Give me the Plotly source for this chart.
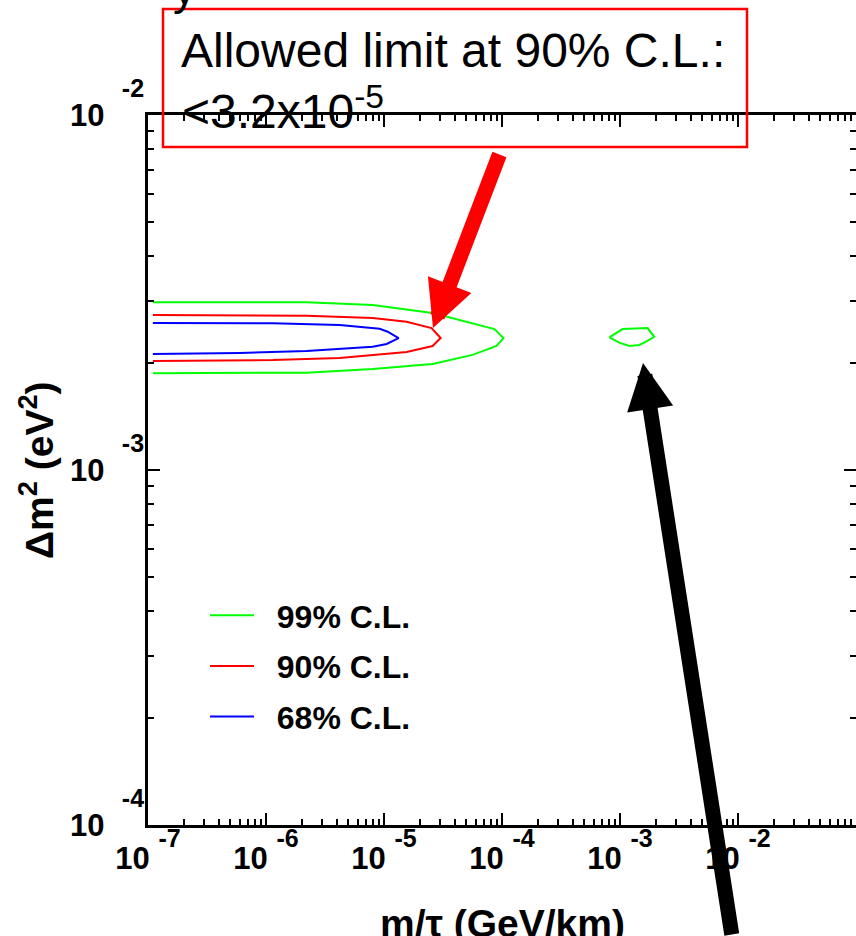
import plotly.graph_objects as go

# ---------------- data ----------------
# m/tau in GeV/km, delta m^2 in eV^2
c99_x = [1.10e-7, 2.21e-6, 8.02e-6, 2.58e-5, 8.64e-5, 1.03e-4, 8.98e-5, 5.63e-5, 2.58e-5, 8.02e-6, 2.21e-6, 1.10e-7]
c99_y = [2.97e-3, 2.97e-3, 2.915e-3, 2.77e-3, 2.495e-3, 2.353e-3, 2.235e-3, 2.11e-3, 1.99e-3, 1.925e-3, 1.88e-3, 1.873e-3]
c99_island_x = [8.12e-4, 1.052e-3, 1.713e-3, 1.952e-3, 1.66e-3, 1.457e-3, 1.2e-3, 9.87e-4, 8.12e-4]
c99_island_y = [2.364e-3, 2.495e-3, 2.51e-3, 2.373e-3, 2.298e-3, 2.25e-3, 2.235e-3, 2.284e-3, 2.364e-3]
c90_x = [1.10e-7, 2.21e-6, 8.02e-6, 1.555e-5, 2.53e-5, 3.02e-5, 2.58e-5, 1.555e-5, 4.21e-6, 1.142e-6, 1.10e-7]
c90_y = [2.733e-3, 2.72e-3, 2.68e-3, 2.617e-3, 2.51e-3, 2.353e-3, 2.235e-3, 2.15e-3, 2.068e-3, 2.04e-3, 2.028e-3]
c68_x = [1.10e-7, 1.142e-6, 4.21e-6, 9.19e-6, 1.074e-5, 1.33e-5, 1.053e-5, 8.02e-6, 2.21e-6, 6.0e-7, 1.10e-7]
c68_y = [2.595e-3, 2.59e-3, 2.562e-3, 2.5e-3, 2.452e-3, 2.353e-3, 2.264e-3, 2.225e-3, 2.164e-3, 2.136e-3, 2.122e-3]

series_names = ["99% C.L.", "90% C.L.", "68% C.L."]
series_colors = ["#00ff00", "#ff0000", "#0000ff"]

x_exponents = [-7, -6, -5, -4, -3, -2]
y_exponents = [-4, -3, -2]

x_title = "m/τ (GeV/km)"
y_title = "Δm<sup>2</sup> (eV<sup>2</sup>)"
box_line1 = "Allowed limit at 90% C.L.:"
box_line2 = "<3.2x10<sup>-5</sup>"

# ---------------- geometry helpers ----------------
W, H = 856, 936
ML, MR, MT, MB = 148, 0, 115, 111
PW, PH = W - ML - MR, H - MT - MB


def pxx(px):
    return (px - ML) / PW


def pxy(py):
    return (H - MB - py) / PH


FONT = "Liberation Sans, Arial, sans-serif"


def exp_label(base_sp, e, levels):
    inner = f"<span style='font-size:25px'>{e}</span>"
    for _ in range(levels):
        inner = f"<sup>{inner}</sup>"
    return "10" + base_sp + inner


x_tickvals = [10.0 ** e for e in x_exponents]
x_ticktext = [exp_label("\u00a0", e, 2) for e in x_exponents]
y_tickvals = [10.0 ** e for e in y_exponents]
y_ticktext = [exp_label("\u00a0\u00a0", e, 3) for e in y_exponents]

x_minor = [m * 10.0 ** e for e in range(-7, -1) for m in range(2, 10)]
y_minor = [m * 10.0 ** e for e in range(-4, -2) for m in range(2, 10)]

SP = "\u00a0\u00a0"

fig = go.Figure()
fig.add_trace(go.Scatter(x=c99_x, y=c99_y, mode="lines", name=SP + series_names[0],
                         legendgroup="g99", line=dict(color=series_colors[0], width=2)))
fig.add_trace(go.Scatter(x=c99_island_x, y=c99_island_y, mode="lines", name=SP + series_names[0],
                         legendgroup="g99", showlegend=False,
                         line=dict(color=series_colors[0], width=2)))
fig.add_trace(go.Scatter(x=c90_x, y=c90_y, mode="lines", name=SP + series_names[1],
                         legendgroup="g90", line=dict(color=series_colors[1], width=2)))
fig.add_trace(go.Scatter(x=c68_x, y=c68_y, mode="lines", name=SP + series_names[2],
                         legendgroup="g68", line=dict(color=series_colors[2], width=2)))

axis_common = dict(
    type="log", showline=True, linecolor="black", linewidth=2.5, mirror="ticks",
    ticks="inside", ticklen=12, tickwidth=2, tickcolor="black",
    showgrid=False, zeroline=False, automargin=False,
    tickfont=dict(family=FONT, size=31, color="black", weight="bold"),
)

fig.update_xaxes(range=[-7, -1], tickmode="array", tickvals=x_tickvals, ticktext=x_ticktext,
                 ticklabelstandoff=4,
                 minor=dict(tickmode="array", tickvals=x_minor, ticks="inside", ticklen=6,
                            tickwidth=2, tickcolor="black", showgrid=False),
                 **axis_common)
fig.update_yaxes(range=[-4, -2], tickmode="array", tickvals=y_tickvals, ticktext=y_ticktext,
                 ticklabelstandoff=-5,
                 minor=dict(tickmode="array", tickvals=y_minor, ticks="inside", ticklen=6,
                            tickwidth=2, tickcolor="black", showgrid=False),
                 **axis_common)

annotations = [
    # axis titles
    dict(text=f"<b>{x_title}</b>", xref="paper", yref="paper", x=pxx(503), y=pxy(900),
         xanchor="center", yanchor="top", showarrow=False,
         font=dict(family=FONT, size=39, color="black")),
    dict(text=f"<b>{y_title}</b>", xref="paper", yref="paper", x=pxx(36), y=pxy(470),
         xanchor="center", yanchor="middle", textangle=-90, showarrow=False,
         font=dict(family=FONT, size=39, color="black")),
    # box text
    dict(text=box_line1, xref="paper", yref="paper", x=pxx(179), y=pxy(51),
         xanchor="left", yanchor="middle", showarrow=False,
         font=dict(family=FONT, size=48, color="black")),
    dict(text=box_line2, xref="paper", yref="paper", x=pxx(180), y=pxy(108),
         xanchor="left", yanchor="middle", showarrow=False,
         font=dict(family=FONT, size=48, color="black")),
    # stray glyph from cut-off title at the top
    dict(text="y", xref="paper", yref="paper", x=pxx(184), y=pxy(-12),
         xanchor="center", yanchor="middle", showarrow=False,
         font=dict(family=FONT, size=46, color="black")),
    # red arrow
    dict(text="", x=-7 + (433 - ML) / (PW / 6), y=-2 - (328 - MT) / (PH / 2), xref="x", yref="y",
         ax=67, ay=-175, axref="pixel", ayref="pixel", showarrow=True,
         arrowhead=2, arrowsize=0.62, arrowwidth=15, arrowcolor="#ff0000"),
    # black arrow
    dict(text="", x=-7 + (643 - ML) / (PW / 6), y=-2 - (363 - MT) / (PH / 2), xref="x", yref="y",
         ax=89, ay=627, showarrow=True,
         arrowhead=2, arrowsize=0.62, arrowwidth=15, arrowcolor="#000000"),
]

shapes = [
    dict(type="rect", xref="paper", yref="paper", x0=pxx(163), x1=pxx(747), y0=pxy(147), y1=pxy(9),
         line=dict(color="#ff0000", width=2.5), fillcolor="rgba(0,0,0,0)", layer="above"),
]

fig.update_layout(
    width=W, height=H,
    margin=dict(l=ML, r=MR, t=MT, b=MB, autoexpand=False),
    paper_bgcolor="white", plot_bgcolor="white",
    annotations=annotations, shapes=shapes,
    showlegend=True,
    legend=dict(x=pxx(205), y=pxy(588), xanchor="left", yanchor="top",
                bgcolor="rgba(0,0,0,0)", borderwidth=0, itemwidth=44,
                traceorder="grouped", tracegroupgap=6,
                font=dict(family=FONT, size=32, color="black", weight="bold")),
)

fig.write_html("out.html")
